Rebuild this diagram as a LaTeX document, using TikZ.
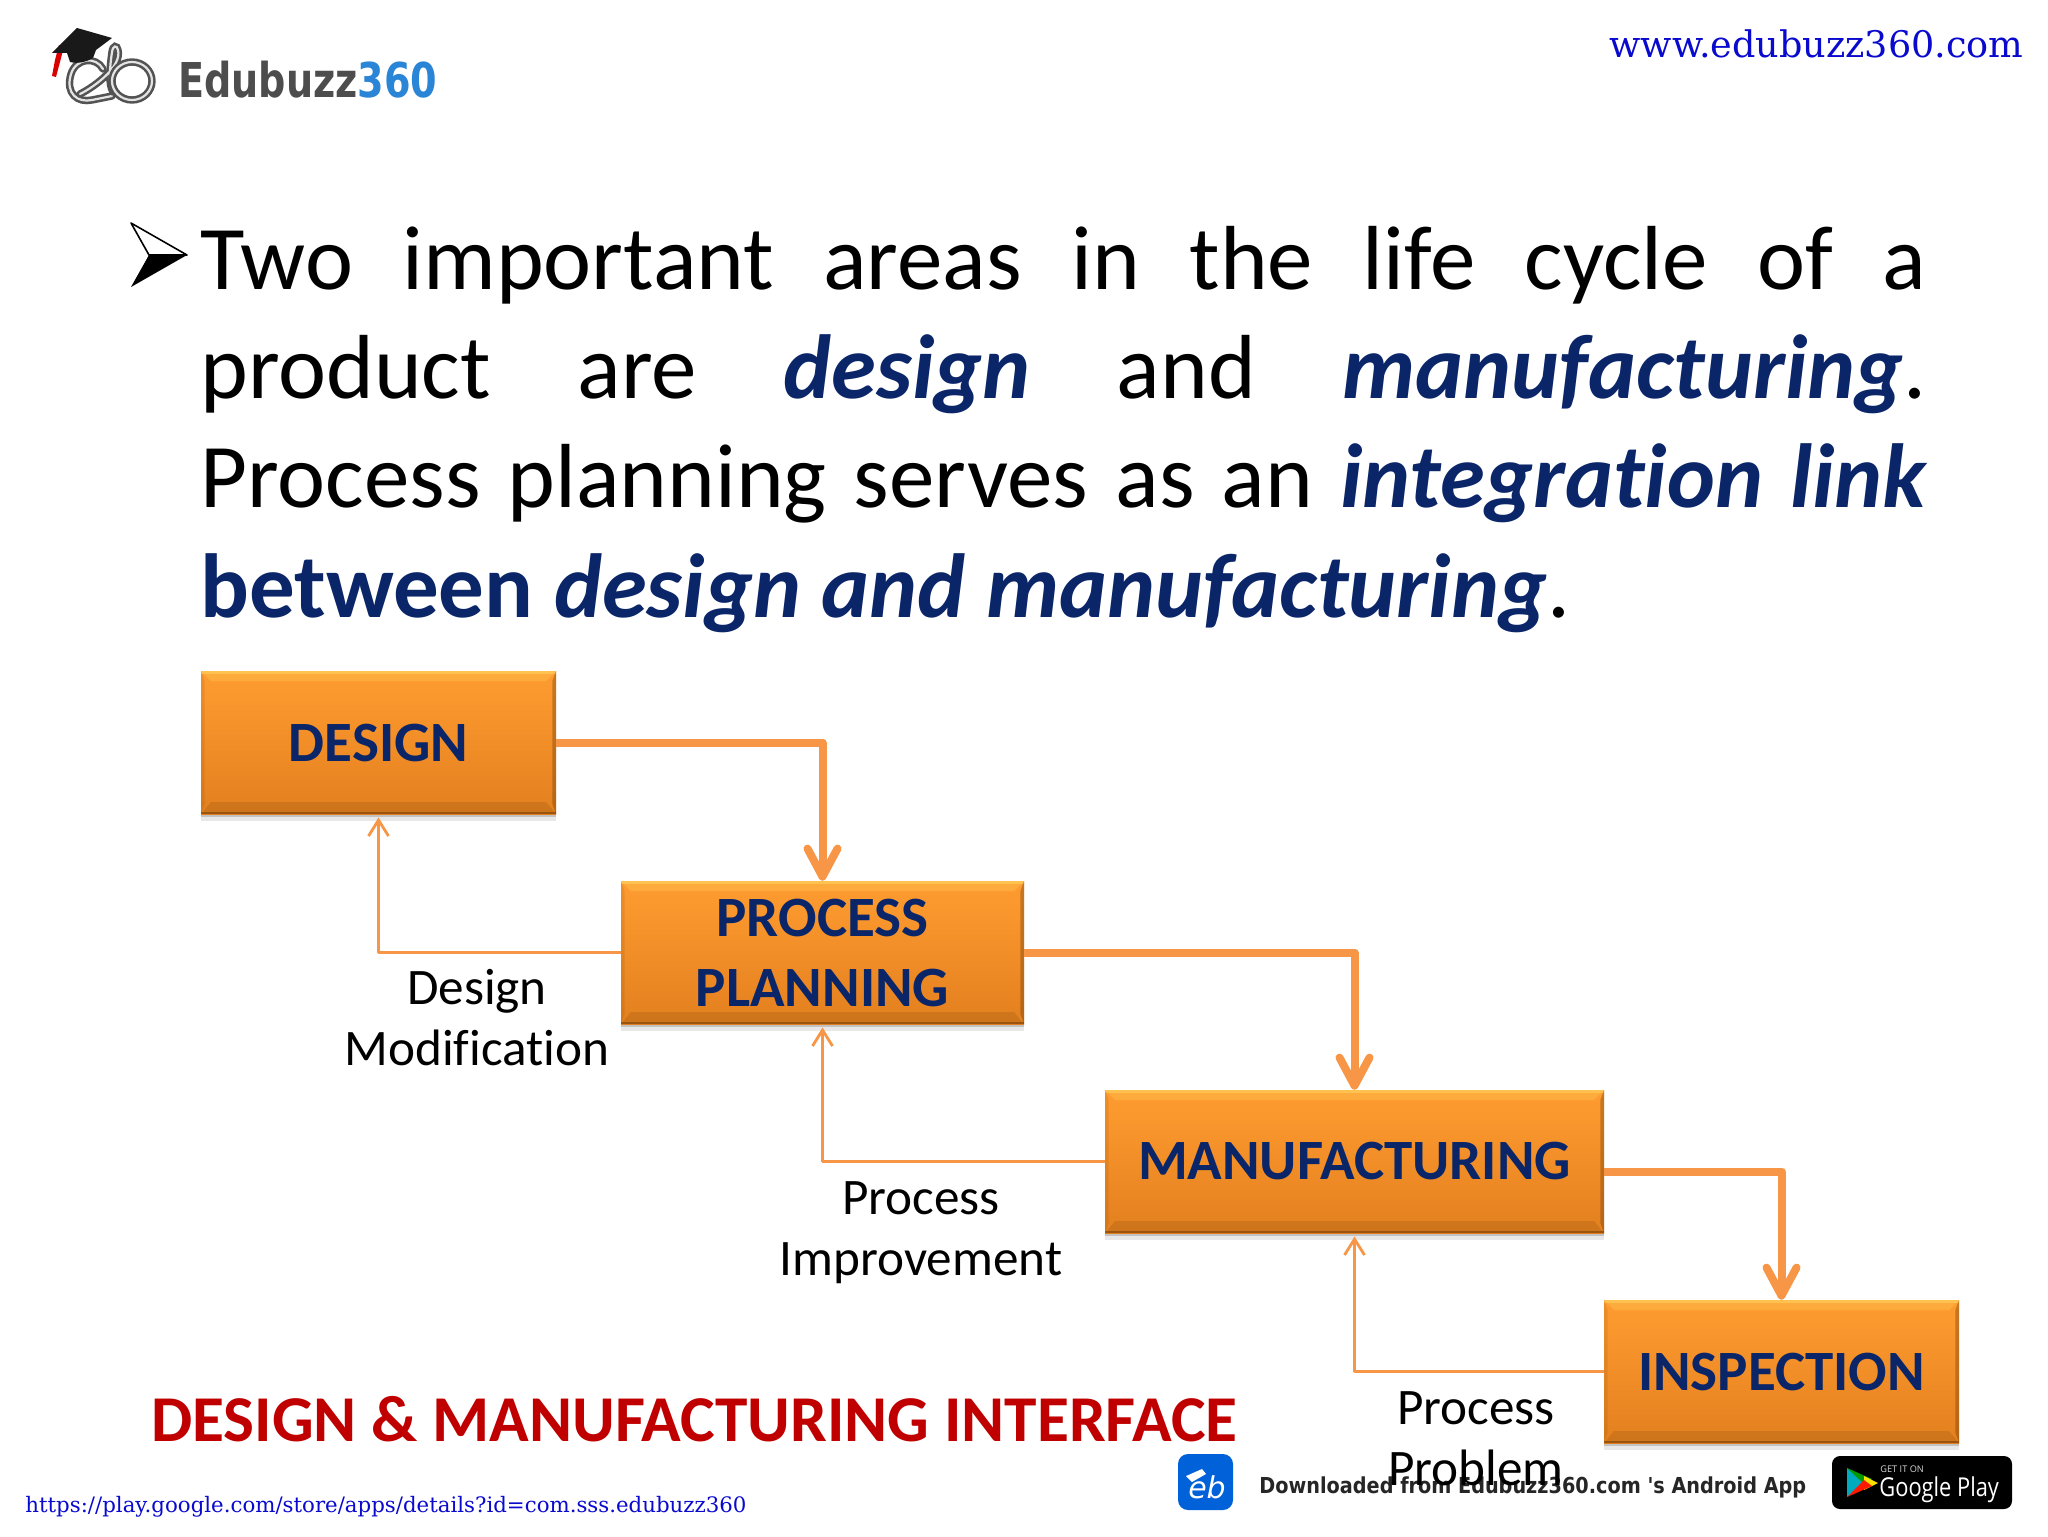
\documentclass[tikz,border=0pt]{standalone}
\usepackage{fontspec}
\setmainfont[Ligatures={NoCommon}]{Carlito}
\newfontfamily\slabfont{DejaVu Serif}
\newfontfamily\logofont{DejaVu Sans}
\newfontfamily\playfont{Open Sans}
\usetikzlibrary{arrows.meta,shadows}
\definecolor{navy}{HTML}{0A2568}
\definecolor{linkorange}{HTML}{F79646}
\definecolor{titlered}{HTML}{C00000}
\definecolor{weblue}{HTML}{0A0ACF}
\definecolor{boxtop}{HTML}{FF9C30}
\definecolor{boxbot}{HTML}{E3801F}
\definecolor{logoblue}{HTML}{2B85D6}
\definecolor{logogray}{HTML}{4D4D4D}
\tikzset{
 flowbox/.style={rectangle,inner sep=0pt,top color=boxtop,bottom color=boxbot,
   text=navy,align=center,
   font=\fontsize{28.5}{35}\selectfont\bfseries,
   drop shadow={shadow xshift=0pt,shadow yshift=-1.5pt,opacity=.16,fill=black},
   drop shadow={shadow xshift=0pt,shadow yshift=-3.5pt,opacity=.09,fill=black},
   path picture={
     \fill[yellow!50!white,opacity=.18] (path picture bounding box.north west) -- (path picture bounding box.north east)
       -- ([xshift=-5pt,yshift=-5pt]path picture bounding box.north east) -- ([xshift=5pt,yshift=-5pt]path picture bounding box.north west) -- cycle;
     \fill[yellow!50!white,opacity=.3] (path picture bounding box.north west) rectangle ([yshift=-1.6pt]path picture bounding box.north east);
     \fill[black!70!orange,opacity=.14] (path picture bounding box.south west) -- (path picture bounding box.south east)
       -- ([xshift=-5pt,yshift=6pt]path picture bounding box.south east) -- ([xshift=5pt,yshift=6pt]path picture bounding box.south west) -- cycle;
     \fill[black!70!orange,opacity=.4] (path picture bounding box.south west) rectangle ([yshift=1.2pt]path picture bounding box.south east);
     \fill[black!70!orange,opacity=.3] (path picture bounding box.south east) -- (path picture bounding box.north east)
       -- ([xshift=-1.8pt,yshift=-5pt]path picture bounding box.north east) -- ([xshift=-1.8pt,yshift=5pt]path picture bounding box.south east) -- cycle;
     \fill[black!70!orange,opacity=.1] (path picture bounding box.south west) -- (path picture bounding box.north west)
       -- ([xshift=1.8pt,yshift=-5pt]path picture bounding box.north west) -- ([xshift=1.8pt,yshift=5pt]path picture bounding box.south west) -- cycle;
   }},
 mainlink/.style={draw=linkorange,line width=4pt,line join=round,
   -{Straight Barb[length=14pt,width=15pt,round]},
   preaction={draw=black,opacity=.12,transform canvas={yshift=-2pt}}},
 backlink/.style={draw=linkorange,line width=1.4pt,line join=round,shorten >=1.5pt,
   -{Straight Barb[length=8pt,width=10pt]}},
 steplabel/.style={inner sep=0pt,align=center,text=black,font=\fontsize{25.6}{30.5}\selectfont},
 weburl/.style={inner sep=0pt,text=weblue,font=\slabfont},
 ebstroke/.style={draw=gray!65!black,double=gray!22,double distance=1.1pt,line width=1.3pt,line cap=round},
}
\begin{document}
\begin{tikzpicture}[x=0.5pt,y=-0.5pt]
\useasboundingbox (0,0) rectangle (2048,1536);
\fill[white] (0,0) rectangle (2048,1536);

% logo
\fill[red!85!black] (59,45) -- (64,46) -- (60,62) -- (56,77) -- (52,76) -- (55,60) -- cycle;
\draw[ebstroke] (103,69) .. controls (96,56) and (76,58) .. (71,74) .. controls (65,94) and (78,103) .. (92,100) -- (112,96);
\draw[ebstroke] (80,94) .. controls (96,86) and (122,66) .. (118,50) .. controls (117,45) and (113,45) .. (112,52) .. controls (110,66) and (108,84) .. (113,92);
\draw[ebstroke] (132,81) ellipse[x radius=20,y radius=19];
\fill[black!90] (77,28) -- (112,38) -- (96,50) -- (93,58) .. controls (86,62) and (78,64) .. (70,62) -- (67,53) -- (52,53) -- cycle;
\node[inner sep=0pt,anchor=west,font=\fontsize{24}{28}\logofont\bfseries] (logotext) at (178,80)
  {\scalebox{.795}[1]{\textcolor{logogray}{Edubuzz}\textcolor{logoblue}{360}}};

\node[weburl,anchor=east,font=\fontsize{18.3}{24}\slabfont] (topurl) at (2024,44) {www.edubuzz360.com};

% bullet
\fill[black] (131,287) -- (149,255) -- (187,255) -- cycle;
\draw[black,fill=white,line width=.8pt,line join=round] (131,223) -- (187,255) -- (149,255) -- cycle;

% paragraph
\node[inner sep=0pt,anchor=north west,text width=863pt,align=justify,text=black,
  font=\fontsize{45.5}{54.6}\selectfont] (para) at (200,226)
  {Two important areas in the life cycle of a\linebreak
   product are \textcolor{navy}{\bfseries\itshape design} and \textcolor{navy}{\bfseries\itshape manufacturing}.\linebreak
   Process planning serves as an \textcolor{navy}{\bfseries\itshape integration link}\linebreak
   \textcolor{navy}{\bfseries between \itshape design and manufacturing}.};

% boxes
\node[flowbox,minimum width=177.5pt,minimum height=71.5pt] (design) at (378.5,742.5) {\raisebox{-.7pt}{DESIGN}};
\node[flowbox,minimum width=201.5pt,minimum height=71.5pt] (process) at (822.5,952.5) {\raisebox{-.7pt}{PROCESS}\\\raisebox{-.7pt}{PLANNING}};
\node[flowbox,minimum width=249.5pt,minimum height=71.5pt] (manu) at (1354.5,1161.5) {\raisebox{-1.3pt}{MANUFACTURING}};
\node[flowbox,minimum width=177.5pt,minimum height=71.5pt] (insp) at (1781.5,1371.5) {\raisebox{-.7pt}{INSPECTION}};

% feedback links
\draw[backlink] (process.west) -| (design.south);
\draw[backlink] (manu.west) -| (process.south);
\draw[backlink] (insp.west) -| (manu.south);
% main links
\draw[mainlink] (design.east) -| (process.north);
\draw[mainlink] (process.east) -| (manu.north);
\draw[mainlink] ([yshift=-5pt]manu.east) -| (insp.north);

% title and bottom strip
\node[inner sep=0pt,anchor=base west,text=titlered,font=\fontsize{32.7}{38}\selectfont\bfseries] (title) at (151,1441)
  {DESIGN \& MANUFACTURING INTERFACE};
\node[weburl,anchor=west,font=\fontsize{10.65}{13}\slabfont] (playurl) at (25,1507)
  {https://play.google.com/store/apps/details?id=com.sss.edubuzz360};

\fill[blue!55!cyan!85!black,rounded corners=5pt] (1178,1454) rectangle (1233,1510);
\node[inner sep=0pt,text=white,font=\fontsize{15}{16}\logofont\itshape] (appmark) at (1207,1487) {eb};
\fill[white] (1186,1476) -- (1202,1469) -- (1206,1474) -- (1192,1482) -- cycle;
\node[inner sep=0pt,anchor=west,text=black!85,font=\fontsize{11}{14}\logofont\bfseries] (download) at (1259,1487)
  {\scalebox{.875}[1]{Downloaded from Edubuzz360.com 's Android App}};

\fill[black,rounded corners=4pt] (1832,1456) rectangle (2012,1509);
\fill[cyan!70!green] (1847,1468) -- (1866,1482) -- (1847,1497) -- cycle;
\fill[green!60!black] (1847,1468) -- (1872,1479) -- (1864,1484) -- cycle;
\fill[yellow!85!orange] (1864,1476) -- (1878,1483) -- (1864,1490) -- cycle;
\fill[red!80!orange] (1847,1497) -- (1872,1486) -- (1864,1480) -- cycle;
\node[inner sep=0pt,anchor=west,text=white!85!black,font=\fontsize{4.6}{5}\playfont] (getit) at (1880,1469) {GET IT ON};
\node[inner sep=0pt,anchor=west,text=white,font=\fontsize{13}{15}\playfont] (gplay) at (1879,1490) {\scalebox{.84}[1]{Google Play}};

% labels
\node[steplabel] (lab1) at (477,1018) {Design\\Modification};
\node[steplabel] (lab2) at (921,1233) {Process\\Improvement};
\node[steplabel] (lab3) at (1476,1439) {Process\\Problem};
\end{tikzpicture}
\end{document}
